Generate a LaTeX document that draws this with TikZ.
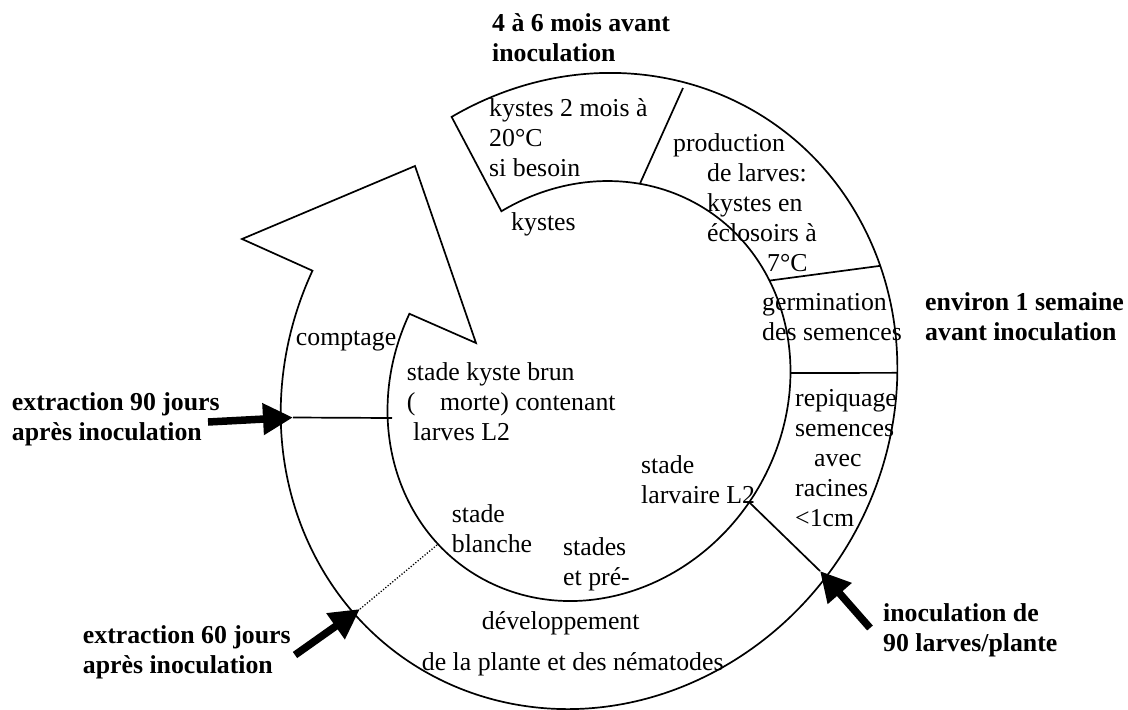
\documentclass[tikz,border=0pt]{standalone}
\usepackage{fontspec}
\setmainfont{Liberation Serif}
\usetikzlibrary{arrows.meta}
\begin{document}
\begin{tikzpicture}[x=1pt,y=-1pt,
  ring/.style={line width=1.7pt, line join=miter},
  divline/.style={line width=1.7pt},
  dotline/.style={line width=1.3pt, dash pattern=on 1.2pt off 1.8pt},
  bigarrow/.style={line width=7.5pt, -{Triangle[length=30pt,width=30pt]}},
  txt/.style={font=\fontsize{25.8}{30}\selectfont, inner sep=0pt, anchor=north west, align=left},
  btxt/.style={txt, font=\fontsize{25.8}{30}\selectfont\bfseries}]
\useasboundingbox (0,0) rectangle (1128,710);

% arrowhead of the circular arrow
\coordinate (ah1) at (242,239);
\coordinate (ah2) at (415,166);
\coordinate (ah3) at (476,343);

\begin{scope}[shift={(589,391)}, rotate=-33]
  \draw[ring] (-151.5:301 and 325)
     arc[start angle=-151.5, end angle=171.2, x radius=301, y radius=325]
     -- (ah1) -- (ah2) -- (ah3) -- (171.2:195 and 216)
     arc[start angle=171.2, end angle=-151.5, x radius=195, y radius=216]
     -- cycle;
  \coordinate (d1i) at (-111.1:195 and 216);
  \coordinate (d2i) at (-62.1:195 and 216);
  \coordinate (d2o) at (-54.2:301 and 325);
  \coordinate (d3i) at (-35.3:195 and 216);
  \coordinate (d3o) at (-34.3:301 and 325);
  \coordinate (li) at (1.6:195 and 216);
\end{scope}

\coordinate (d1o) at (683,88);
\draw[divline] (d1o) -- (d1i);
\draw[divline] (d2i) -- (d2o);
\draw[divline] (d3i) -- (d3o);

% arrows
\coordinate (a90s) at (208,422);
\coordinate (a90t) at (293,417.5);
\coordinate (l90e) at (392,418);
\coordinate (a60s) at (295,655);
\coordinate (a60t) at (360,609);
\coordinate (l60e) at (437,545);
\coordinate (ains) at (870,628);
\coordinate (aint) at (820,571);

\draw[bigarrow] (a90s) -- (a90t);
\draw[divline] (a90t) -- (l90e);
\draw[bigarrow] (a60s) -- (a60t);
\draw[dotline] (a60t) -- (l60e);
\draw[bigarrow] (ains) -- (aint);
\draw[divline] (li) -- (aint);

% texts
\node[btxt] (h1) at (492,10.7) {\strut 4 à 6 mois avant\\inoculation};
\node[txt] (k2) at (489,95) {\strut kystes 2 mois à\\20°C\\si besoin};
\node[txt] (ky) at (511,209) {\strut kystes};
\node[txt] (prod) at (673,130.7) {\strut production\\\hspace*{34pt}de larves:\\\hspace*{34pt}kystes en\\\hspace*{34pt}éclosoirs à\\\hspace*{94pt}7°C};
\node[txt] (germ) at (762,289) {\strut germination\\des semences};
\node[btxt] (env) at (925,289) {\strut environ 1 semaine\\avant inoculation};
\node[txt] (rep) at (795,385.7) {\strut repiquage\\semences\\\hspace*{19pt}avec\\racines\\<1cm};
\node[txt] (larv) at (641,452) {\strut stade\\larvaire L2};
\node[btxt] (inoc) at (883,600.7) {\strut inoculation de\\90 larves/plante};
\node[btxt] (ext90) at (11.7,389) {\strut extraction 90 jours\\après inoculation};
\node[btxt] (ext60) at (82.7,622) {\strut extraction 60 jours\\après inoculation};
\node[txt] (compt) at (295.7,324) {\strut comptage};
\node[txt] (brun) at (406.7,359) {\strut stade kyste brun\\(\hspace*{24.6pt}morte) contenant\\\hspace*{6.3pt}larves L2};
\node[txt] (blanche) at (451.7,501.7) {\strut stade\\blanche};
\node[txt] (stades) at (563,534) {\strut stades\\et pré-};
\node[txt] (dev) at (481.7,608.3) {\strut développement};
\node[txt] (plante) at (421.7,649) {\strut de la plante et des nématodes};
\end{tikzpicture}
\end{document}
